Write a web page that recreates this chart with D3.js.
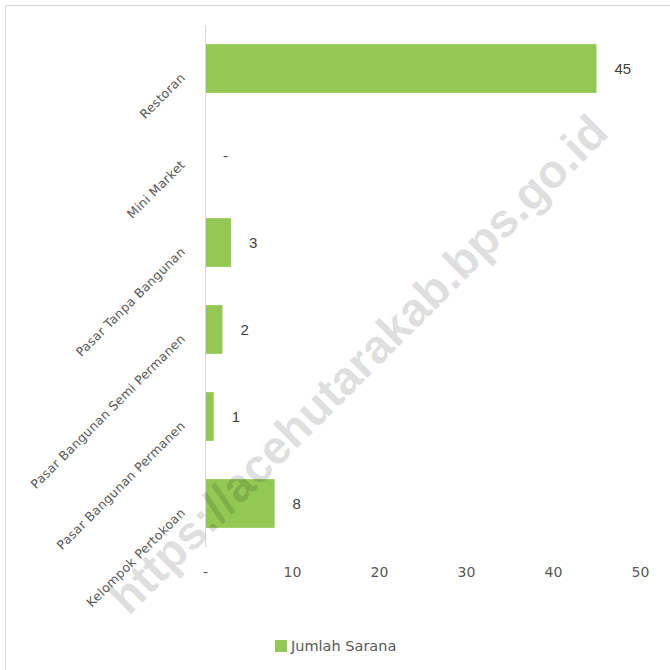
<!DOCTYPE html>
<html>
<head>
<meta charset="utf-8">
<script src="https://cdn.jsdelivr.net/npm/d3@7"></script>
<style>
  body { margin: 0; background: #fff; }
  svg { display: block; }
</style>
</head>
<body>
<svg id="chart"></svg>
<script>
// data
const categories = ["Restoran", "Mini Market", "Pasar Tanpa Bangunan", "Pasar Bangunan Semi Permanen", "Pasar Bangunan Permanen", "Kelompok Pertokoan"];
const values = [45, 0, 3, 2, 1, 8];
const xTicks = [0, 10, 20, 30, 40, 50];
const seriesName = "Jumlah Sarana";

function drawChart() {
  const width = 670;
  const height = 670;
  const margin = { top: 25, right: 30, bottom: 123, left: 205 };
  const font = "'DejaVu Sans', sans-serif";
  const numFont = "'Liberation Sans', Arial, sans-serif";
  const green = "#92c853";

  const svg = d3.select("#chart")
    .attr("width", width)
    .attr("height", height);

  // outer frame
  svg.append("rect")
    .attr("x", 5.5).attr("y", 5.5)
    .attr("width", width + 10).attr("height", height + 10)
    .attr("fill", "#fff")
    .attr("stroke", "#d9d9d9");

  const x = d3.scaleLinear()
    .domain([0, 50])
    .range([margin.left, 640]);

  const y = d3.scaleBand()
    .domain(categories)
    .range([margin.top, height - margin.bottom])
    .paddingInner(0.44)
    .paddingOuter(0.22);

  // bars
  svg.append("g")
    .selectAll("rect")
    .data(values)
    .join("rect")
    .attr("x", x(0))
    .attr("y", (d, i) => y(categories[i]))
    .attr("width", d => x(d) - x(0))
    .attr("height", y.bandwidth())
    .attr("fill", green);

  // category axis
  const yAxis = svg.append("g")
    .attr("transform", `translate(${x(0)},0)`)
    .call(d3.axisLeft(y).tickSize(0).tickPadding(0));
  yAxis.select(".domain").attr("stroke", "#d9d9d9").attr("d", `M0.5,${margin.top}V${height - margin.bottom}`);
  yAxis.selectAll(".tick text")
    .attr("font-family", font)
    .attr("font-size", 12.5)
    .attr("letter-spacing", 0.3)
    .attr("fill", "#595959")
    .attr("text-anchor", "end")
    .attr("dy", 0)
    .attr("transform", "translate(-19,10) rotate(-45)");

  // value axis
  const xAxis = svg.append("g")
    .attr("transform", `translate(0,${height - margin.bottom})`)
    .call(d3.axisBottom(x).tickValues(xTicks).tickSize(0).tickPadding(20)
      .tickFormat(d => d === 0 ? "-" : d));
  xAxis.select(".domain").remove();
  xAxis.selectAll(".tick text")
    .attr("font-family", font)
    .attr("font-size", 14)
    .attr("fill", "#595959");

  // value labels
  svg.append("g")
    .selectAll("text")
    .data(values)
    .join("text")
    .attr("x", d => x(d) + 18)
    .attr("y", (d, i) => y(categories[i]) + y.bandwidth() / 2)
    .attr("dy", "0.35em")
    .attr("font-family", numFont)
    .attr("font-size", 15)
    .attr("fill", "#404040")
    .text(d => d === 0 ? "-" : d);

  // legend
  const legend = svg.append("g").attr("transform", "translate(275,640)");
  legend.append("rect").attr("width", 12).attr("height", 12).attr("fill", green);
  legend.append("text")
    .attr("x", 16).attr("y", 11)
    .attr("font-family", font)
    .attr("font-size", 14.5)
    .attr("fill", "#595959")
    .text(seriesName);

  // watermark
  svg.append("text")
    .attr("transform", "translate(358,364) rotate(-45)")
    .attr("text-anchor", "middle")
    .attr("dy", "0.35em")
    .attr("font-family", numFont)
    .attr("font-weight", "bold")
    .attr("font-size", 47)
    .attr("fill", "rgba(0,0,0,0.14)")
    .text("https://acehutarakab.bps.go.id");
}

drawChart();
</script>
</body>
</html>
